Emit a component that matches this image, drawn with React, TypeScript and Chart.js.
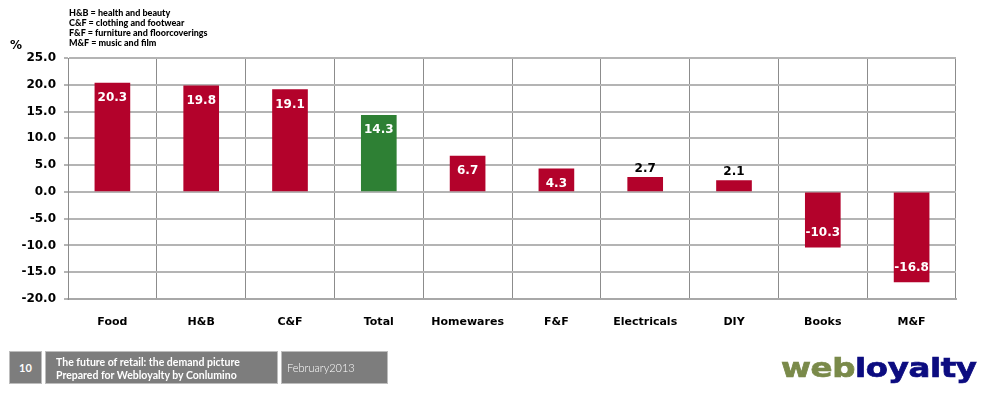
import React, { useEffect, useRef } from "react";
import { Chart, registerables } from "chart.js";

Chart.register(...registerables);

const categories = ["Food", "H&B", "C&F", "Total", "Homewares", "F&F", "Electricals", "DIY", "Books", "M&F"];
const values = [20.3, 19.8, 19.1, 14.3, 6.7, 4.3, 2.7, 2.1, -10.3, -16.8];
const highlight = ["", "", "", "Total", "", "", "", "", "", ""];
const yTicks = { min: -20, max: 25, step: 5 };
const legendLines = [
  "H&B = health and beauty",
  "C&F = clothing and footwear",
  "F&F = furniture and floorcoverings",
  "M&F = music and film",
];

const RED = "#B3022B";
const GREEN = "#2E8034";
const FONT = "'DejaVu Sans', sans-serif";

const labelPlugin = {
  id: "valueLabels",
  afterDatasetsDraw(chart: any) {
    const ctx = chart.ctx;
    const meta = chart.getDatasetMeta(0);
    ctx.save();
    ctx.font = `bold 12px ${FONT}`;
    ctx.textAlign = "center";
    ctx.textBaseline = "middle";
    meta.data.forEach((bar: any, i: number) => {
      const v = values[i];
      const txt = v.toFixed(1);
      if (v >= 0 && v < 3) {
        ctx.fillStyle = "#000";
        ctx.fillText(txt, bar.x, bar.y - 9);
      } else if (v >= 0) {
        ctx.fillStyle = "#fff";
        ctx.fillText(txt, bar.x, bar.y + 15);
      } else {
        ctx.fillStyle = "#fff";
        ctx.fillText(txt, bar.x, bar.y - 14);
      }
    });
    ctx.restore();
  },
};

export default function App() {
  const ref = useRef<HTMLCanvasElement | null>(null);
  useEffect(() => {
    if (!ref.current) return;
    const chart = new Chart(ref.current, {
      type: "bar",
      data: {
        labels: categories,
        datasets: [
          {
            data: values,
            backgroundColor: categories.map((c, i) => (highlight[i] ? GREEN : RED)),
            barThickness: 35,
          },
        ],
      },
      options: {
        animation: false,
        responsive: true,
        maintainAspectRatio: false,
        layout: { padding: { left: 0, right: 30, top: 58, bottom: 59 } },
        plugins: { legend: { display: false }, tooltip: { enabled: false } },
        scales: {
          x: {
            offset: true,
            grid: { offset: true, color: "#8c8c8c", lineWidth: 1, drawTicks: false },
            border: { display: true, color: "#a8a8a8", width: 2 },
            ticks: { color: "#000", font: { family: FONT, size: 11, weight: "bold" }, padding: 17 },
            afterFit: (s: any) => {
              s.height = 40;
            },
          },
          y: {
            min: yTicks.min,
            max: yTicks.max,
            grid: { color: "#b4b4b4", lineWidth: 2, tickLength: 4 },
            border: { display: true, color: "#8c8c8c", width: 1 },
            ticks: {
              stepSize: yTicks.step,
              color: "#000",
              font: { family: FONT, size: 12, weight: "bold" },
              padding: 8,
              callback: (v: any) => Number(v).toFixed(1),
            },
            afterFit: (s: any) => {
              s.width = 68;
            },
          },
        },
      },
      plugins: [labelPlugin],
    });
    return () => chart.destroy();
  }, []);

  const box: React.CSSProperties = {
    position: "absolute",
    background: "#7d7d7d",
    color: "#fff",
    boxSizing: "border-box",
    border: "1px solid #bdbdbd",
  };

  return (
    <div style={{ position: "fixed", left: 0, top: 0, width: 986, height: 398, background: "#fff", overflow: "hidden" }}>
      <div style={{ position: "absolute", left: 0, top: 0, width: 986, height: 398 }}>
        <canvas ref={ref} />
      </div>
      <div style={{ position: "absolute", left: 69, top: 8, fontFamily: "Lato, sans-serif", fontWeight: 900, fontSize: 9, lineHeight: "10px", color: "#000" }}>
        {legendLines.map((l) => (
          <div key={l}>{l}</div>
        ))}
      </div>
      <div style={{ position: "absolute", left: 10, top: 38, fontFamily: FONT, fontWeight: 700, fontSize: 12, color: "#000" }}>%</div>
      <div style={{ ...box, left: 9, top: 351, width: 33, height: 33, fontFamily: "Lato, sans-serif", fontWeight: 700, fontSize: 11, display: "flex", alignItems: "center", justifyContent: "center" }}>10</div>
      <div style={{ ...box, left: 45, top: 351, width: 233, height: 33, fontFamily: "Lato, sans-serif", fontWeight: 700, fontSize: 10.5, lineHeight: "12.5px", paddingLeft: 10, paddingTop: 4 }}>
        <div>The future of retail: the demand picture</div>
        <div>Prepared for Webloyalty by Conlumino</div>
      </div>
      <div style={{ ...box, left: 281, top: 351, width: 107, height: 33, fontFamily: "Lato, sans-serif", fontWeight: 300, fontSize: 11, paddingLeft: 5, display: "flex", alignItems: "center" }}>February2013</div>
      <div style={{ position: "absolute", left: 781, top: 350, fontFamily: FONT, fontWeight: 700, fontSize: 27, lineHeight: "36px", transform: "scaleX(1.2)", transformOrigin: "left top", letterSpacing: -0.3, whiteSpace: "nowrap", WebkitTextStroke: "0.7px currentColor" }}>
        <span style={{ color: "#7A8A4A" }}>web</span>
        <span style={{ color: "#0C0C80" }}>loyalty</span>
      </div>
    </div>
  );
}
